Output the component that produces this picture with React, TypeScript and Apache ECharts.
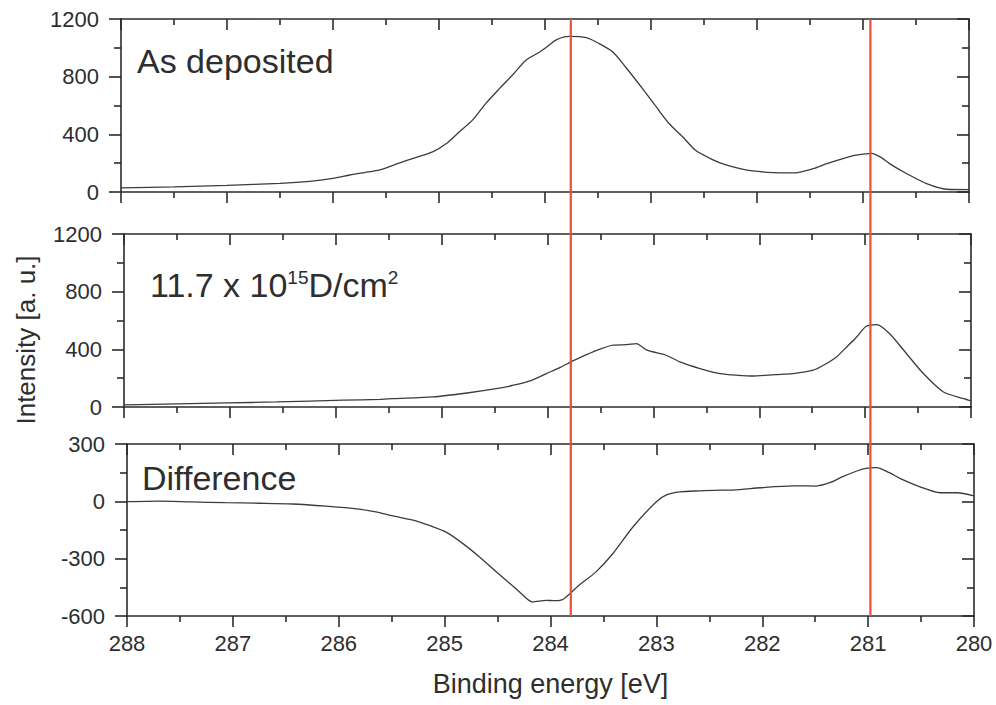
import { useEffect, useRef } from "react";
import * as echarts from "echarts";

// ---- Data ----
const depositedEnergy = [
  288.0, 287.5, 287.0, 286.5, 286.22, 286.0, 285.84, 285.7, 285.56, 285.37, 285.25, 285.06,
  284.93, 284.81, 284.68, 284.56, 284.43, 284.3, 284.18, 284.05, 283.99, 283.89, 283.77,
  283.61, 283.49, 283.36, 283.24, 283.08, 282.95, 282.83, 282.7, 282.58, 282.42, 282.3,
  282.15, 282.04, 281.85, 281.66, 281.47, 281.35, 281.22, 281.1, 281.0, 280.92, 280.83,
  280.75, 280.59, 280.4, 280.21, 280.0,
];
const depositedIntensity = [
  28, 36, 46, 60, 74, 95, 118, 135, 153, 202, 232, 278,
  336, 416, 502, 613, 717, 817, 914, 971, 1002, 1057, 1080,
  1071, 1030, 971, 867, 717, 590, 475, 382, 289, 225, 190,
  160, 146, 135, 132, 162, 195, 225, 250, 262, 268, 240,
  197, 128, 58, 19, 17,
];

const irradiatedEnergy = [
  288.0, 287.5, 287.03, 286.56, 285.93, 285.58, 285.46, 285.08, 284.76, 284.5, 284.32,
  284.15, 284.01, 283.88, 283.76, 283.57, 283.38, 283.25, 283.16, 283.06, 282.88, 282.75,
  282.56, 282.37, 282.2, 282.06, 281.85, 281.68, 281.49, 281.38, 281.27, 281.17, 281.08,
  280.99, 280.89, 280.77, 280.61, 280.45, 280.26, 280.07, 280.0,
];
const irradiatedIntensity = [
  15, 22, 28, 35, 47, 53, 58, 70, 97, 125, 151,
  185, 232, 275, 320, 383, 429, 432, 440, 394, 359, 313,
  267, 232, 220, 215, 225, 232, 255, 295, 347, 420, 486,
  560, 572, 510, 371, 232, 104, 58, 42,
];

const differenceEnergy = [
  288.0, 287.7, 287.4, 287.07, 286.75, 286.44, 286.12, 285.87, 285.65, 285.5, 285.3,
  285.15, 284.99, 284.83, 284.67, 284.55, 284.42, 284.3, 284.17, 284.04, 283.96, 283.88,
  283.73, 283.57, 283.41, 283.22, 283.0, 282.9, 282.78, 282.59, 282.4, 282.28, 282.02,
  281.71, 281.49, 281.35, 281.24, 281.1, 281.02, 280.92, 280.8, 280.7, 280.51, 280.32,
  280.16, 280.0,
];
const differenceIntensity = [
  -2, 1, -3, -7, -10, -14, -25, -37, -55, -75, -98,
  -125, -160, -220, -291, -350, -413, -470, -527, -518, -520, -512,
  -439, -369, -273, -133, -2, 35, 50, 55, 59, 59, 71,
  81, 80, 100, 129, 160, 173, 176, 150, 120, 76, 45,
  45, 28,
];

const markerEnergies = [283.78, 280.95];

const panelLabels = ["As deposited", "{a|11.7 x 10}{b|15}{a|D/cm}{b|2}", "Difference"];
const xAxisName = "Binding energy [eV]";
const yAxisName = "Intensity [a. u.]";

const FONT = "'Liberation Sans', Arial, Helvetica, sans-serif";
const AXIS_COLOR = "#2b2b2b";
const TEXT_COLOR = "#2e2e2e";
const LINE_COLOR = "#3c3c3c";
const RED = "#ea4f37";

export default function App() {
  const ref = useRef<HTMLDivElement>(null);

  useEffect(() => {
    document.body.style.margin = "0";
    if (!ref.current) return;
    const chart = echarts.init(ref.current, null, { renderer: "svg" });

    const grids = [
      { left: 121, right: 27, top: 19, height: 173 },
      { left: 124, right: 25, top: 234, height: 173 },
      { left: 127, right: 22, top: 444, height: 172 },
      { left: 124, right: 25, top: 19, bottom: 89 },
    ];

    const axisLine = { onZero: false, lineStyle: { color: AXIS_COLOR, width: 1.6 } };
    const tickStyle = { color: AXIS_COLOR, width: 1.6 };
    const plain = (v: number) => String(v);

    const xAxes: any[] = [];
    const yAxes: any[] = [];
    for (let i = 0; i < 3; i++) {
      xAxes.push({
        type: "value",
        gridIndex: i,
        position: "bottom",
        min: 280,
        max: 288,
        interval: 1,
        inverse: true,
        axisLine,
        axisTick: { show: true, inside: false, length: 11, lineStyle: tickStyle },
        minorTick: { show: true, splitNumber: 2, length: 6, lineStyle: tickStyle },
        splitLine: { show: false },
        axisLabel: {
          show: i === 2,
          fontSize: 22,
          fontFamily: FONT,
          color: TEXT_COLOR,
          margin: 16,
          formatter: plain,
        },
        name: i === 2 ? xAxisName : "",
        nameLocation: "middle",
        nameGap: 54,
        nameTextStyle: { fontSize: 27, fontFamily: FONT, color: TEXT_COLOR },
      });
      xAxes.push({
        type: "value",
        gridIndex: i,
        position: "top",
        min: 280,
        max: 288,
        interval: 1,
        inverse: true,
        axisLine,
        axisTick: { show: true, inside: true, length: 11, lineStyle: tickStyle },
        minorTick: { show: true, splitNumber: 2, length: 6, lineStyle: tickStyle },
        splitLine: { show: false },
        axisLabel: { show: false },
      });
      const isDiff = i === 2;
      const yRange = isDiff
        ? { min: -600, max: 300, interval: 300 }
        : { min: 0, max: 1200, interval: 400 };
      yAxes.push({
        type: "value",
        gridIndex: i,
        position: "left",
        ...yRange,
        axisLine,
        axisTick: { show: true, inside: false, length: 12, lineStyle: tickStyle },
        minorTick: { show: true, splitNumber: 2, length: 7, lineStyle: tickStyle },
        splitLine: { show: false },
        axisLabel: {
          fontSize: 22,
          fontFamily: FONT,
          color: TEXT_COLOR,
          margin: 22,
          formatter: plain,
        },
      });
      yAxes.push({
        type: "value",
        gridIndex: i,
        position: "right",
        ...yRange,
        axisLine,
        axisTick: { show: true, inside: true, length: 12, lineStyle: tickStyle },
        minorTick: { show: true, splitNumber: 2, length: 7, lineStyle: tickStyle },
        splitLine: { show: false },
        axisLabel: { show: false },
      });
    }
    // overlay axes for the vertical reference lines
    xAxes.push({
      type: "value",
      gridIndex: 3,
      min: 280,
      max: 288,
      inverse: true,
      show: false,
    });
    yAxes.push({ type: "value", gridIndex: 3, min: 0, max: 1, show: false });

    const pairs = (xs: number[], ys: number[]) => xs.map((x, k) => [x, ys[k]]);

    const curveSeries = [
      pairs(depositedEnergy, depositedIntensity),
      pairs(irradiatedEnergy, irradiatedIntensity),
      pairs(differenceEnergy, differenceIntensity),
    ].map((data, i) => ({
      type: "line",
      xAxisIndex: i * 2,
      yAxisIndex: i * 2,
      data,
      showSymbol: false,
      smooth: 0.25,
      lineStyle: { color: LINE_COLOR, width: 1.3 },
      z: 3,
    }));

    const markerSeries = markerEnergies.map((e) => ({
      type: "line",
      xAxisIndex: 6,
      yAxisIndex: 6,
      data: [
        [e, 0],
        [e, 1],
      ],
      showSymbol: false,
      lineStyle: { color: RED, width: 2.2 },
      z: 5,
    }));

    const labelStyle = { fontSize: 34, fontFamily: FONT, fill: TEXT_COLOR };

    chart.setOption({
      animation: false,
      backgroundColor: "#ffffff",
      grid: grids,
      xAxis: xAxes,
      yAxis: yAxes,
      series: [...curveSeries, ...markerSeries],
      graphic: [
        {
          type: "text",
          x: 137,
          y: 61,
          style: { text: panelLabels[0], ...labelStyle, verticalAlign: "middle" },
        },
        {
          type: "text",
          x: 150,
          y: 285,
          style: {
            text: panelLabels[1],
            verticalAlign: "middle",
            rich: {
              a: { fontSize: 34, fontFamily: FONT, fill: TEXT_COLOR, lineHeight: 34 },
              b: {
                fontSize: 19,
                fontFamily: FONT,
                fill: TEXT_COLOR,
                lineHeight: 19,
                verticalAlign: "top",
              },
            },
          },
        },
        {
          type: "text",
          x: 142,
          y: 478,
          style: { text: panelLabels[2], ...labelStyle, verticalAlign: "middle" },
        },
        {
          type: "text",
          x: 26,
          y: 340,
          rotation: Math.PI / 2,
          style: {
            text: yAxisName,
            fontSize: 26,
            fontFamily: FONT,
            fill: TEXT_COLOR,
            align: "center",
            verticalAlign: "middle",
          },
        },
      ],
    });

    return () => chart.dispose();
  }, []);

  return <div ref={ref} style={{ width: 996, height: 705 }} />;
}
